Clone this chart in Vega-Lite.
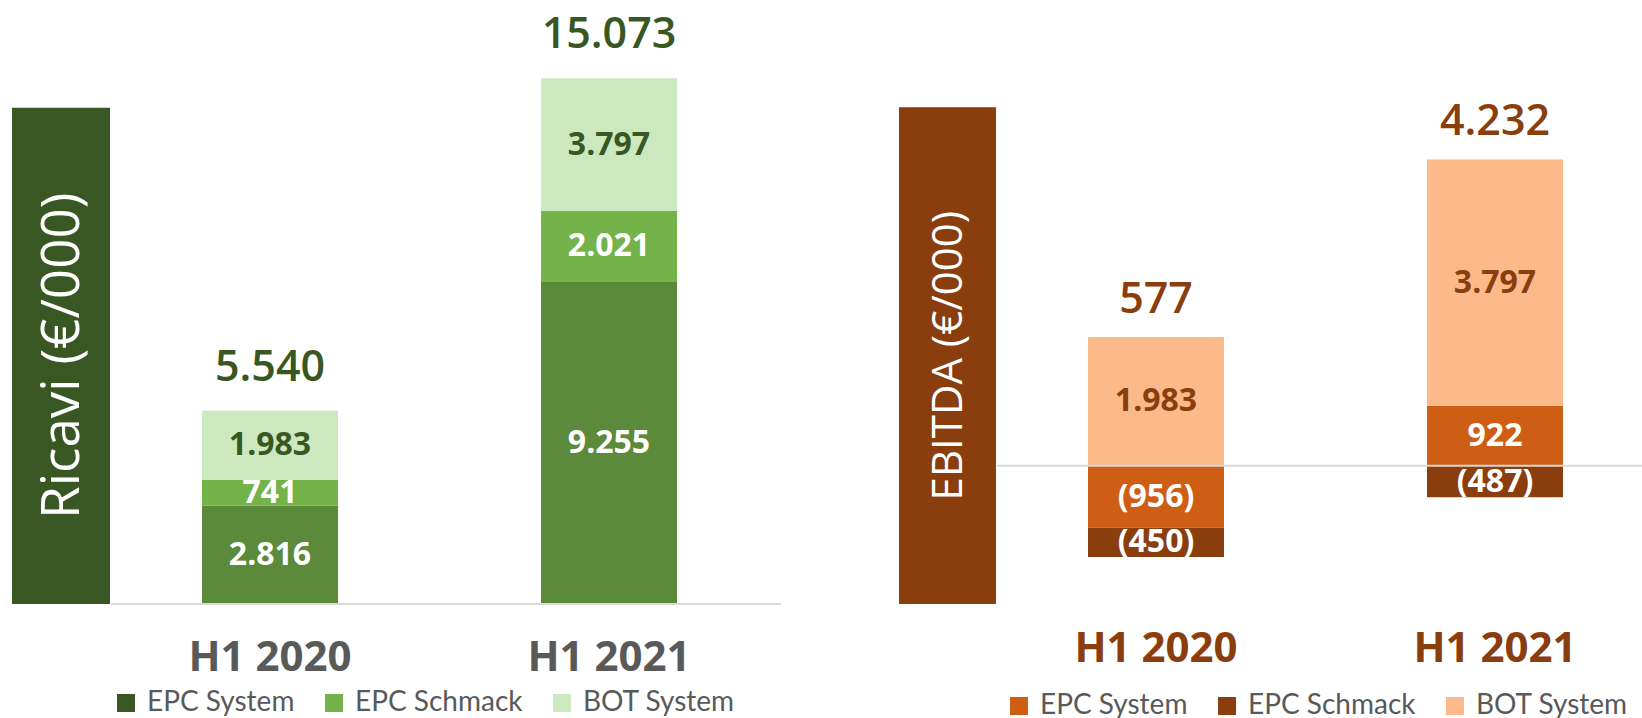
{
  "$schema": "https://vega.github.io/schema/vega-lite/v6.json",
  "padding": {"left": 12, "top": 0, "right": 0, "bottom": 0},
  "background": "white",
  "config": {
    "view": {"stroke": null},
    "locale": {"number": {"decimal": ",", "thousands": ".", "grouping": [3], "currency": ["", " €"]}}
  },
  "datasets": {
    "ricavi": [
      {"period": "H1 2020", "segment": "EPC System", "value": 2816},
      {"period": "H1 2020", "segment": "EPC Schmack", "value": 741},
      {"period": "H1 2020", "segment": "BOT System", "value": 1983},
      {"period": "H1 2021", "segment": "EPC System", "value": 9255},
      {"period": "H1 2021", "segment": "EPC Schmack", "value": 2021},
      {"period": "H1 2021", "segment": "BOT System", "value": 3797}
    ],
    "ebitda": [
      {"period": "H1 2020", "segment": "EPC System", "value": -956},
      {"period": "H1 2020", "segment": "EPC Schmack", "value": -450},
      {"period": "H1 2020", "segment": "BOT System", "value": 1983},
      {"period": "H1 2021", "segment": "EPC System", "value": 922},
      {"period": "H1 2021", "segment": "EPC Schmack", "value": -487},
      {"period": "H1 2021", "segment": "BOT System", "value": 3797}
    ],
    "titles": [
      {"panel": "ricavi", "title": "Ricavi (€/000)", "top": 14230, "bottom": 0},
      {"panel": "ebitda", "title": "EBITDA (€/000)", "top": 5522, "bottom": -2131}
    ]
  },
  "spacing": 117,
  "resolve": {"scale": {"x": "independent", "y": "independent", "color": "independent"}, "legend": {"color": "independent"}},
  "hconcat": [
    {
      "spacing": 0,
      "resolve": {"scale": {"x": "independent", "y": "independent", "color": "independent"}, "legend": {"color": "independent"}},
      "hconcat": [
        {
          "width": 98,
          "height": 604,
          "data": {"name": "titles"},
          "transform": [
            {"filter": "datum.panel === 'ricavi'"},
            {"calculate": "(datum.top + datum.bottom) / 2", "as": "mid"}
          ],
          "layer": [
            {
              "mark": {"type": "rect", "color": "#385723"},
              "encoding": {
                "x": {"field": "title", "type": "nominal", "axis": null, "scale": {"paddingInner": 0, "paddingOuter": 0}},
                "y": {"field": "top", "type": "quantitative", "axis": null, "scale": {"domain": [0, 17318], "nice": false, "zero": false}},
                "y2": {"field": "bottom"}
              }
            },
            {
              "mark": {"type": "text", "angle": 270, "fontSize": 53, "font": "Open Sans", "color": "white", "align": "center", "baseline": "middle", "dy": 2},
              "encoding": {
                "x": {"field": "title", "type": "nominal", "axis": null},
                "y": {"field": "mid", "type": "quantitative", "axis": null},
                "text": {"field": "title"}
              }
            }
          ]
        },
        {
          "width": 670,
          "height": 604,
          "data": {"name": "ricavi"},
          "transform": [
            {"calculate": "indexof(['EPC System','EPC Schmack','BOT System'], datum.segment)", "as": "ord"},
            {"stack": "value", "groupby": ["period"], "sort": [{"field": "ord", "order": "ascending"}], "as": ["v0", "v1"]},
            {"calculate": "(datum.v0 + datum.v1) / 2", "as": "mid"}
          ],
          "layer": [
            {
              "mark": {"type": "bar"},
              "encoding": {
                "x": {"field": "period", "type": "nominal", "scale": {"paddingInner": 0.5988, "paddingOuter": 0.2876, "align": 0.4667},
                  "axis": {"title": null, "domain": false, "ticks": false, "tickSize": 0, "grid": false, "labelAngle": 0, "labelFont": "Open Sans", "labelFontSize": 42, "labelFontWeight": "bold", "labelColor": "#595959", "labelPadding": 33}},
                "y": {"field": "v1", "type": "quantitative", "axis": null, "scale": {"domain": [0, 17318], "nice": false, "zero": false}},
                "y2": {"field": "v0"},
                "color": {
                  "condition": {"test": "datum.segment === 'EPC System'", "value": "#5A8A3A"},
                  "field": "segment", "type": "nominal",
                  "scale": {"domain": ["EPC System", "EPC Schmack", "BOT System"], "range": ["#385723", "#74B24A", "#CCE8BE"]},
                  "legend": {"orient": "bottom", "direction": "horizontal", "title": null, "symbolType": "square", "symbolSize": 324, "symbolStrokeWidth": 0, "labelFont": "Lato", "labelFontSize": 28, "labelColor": "#595959", "columnPadding": 25, "labelOffset": 7, "offset": 10, "padding": 1, "labelLimit": 400}
                }
              }
            },
            {
              "mark": {"type": "text", "font": "Open Sans", "fontSize": 32, "fontWeight": "bold", "align": "center", "baseline": "middle"},
              "encoding": {
                "x": {"field": "period", "type": "nominal"},
                "y": {"field": "mid", "type": "quantitative"},
                "text": {"field": "value", "type": "quantitative", "format": "(,d"},
                "color": {"condition": {"test": "datum.segment === 'BOT System'", "value": "#385723"}, "value": "white"}
              }
            },
            {
              "transform": [
                {"calculate": "max(datum.value, 0)", "as": "pos"},
                {"aggregate": [{"op": "sum", "field": "value", "as": "total"}, {"op": "sum", "field": "pos", "as": "top"}], "groupby": ["period"]}
              ],
              "mark": {"type": "text", "font": "Open Sans", "fontSize": 43, "fontWeight": 600, "color": "#385723", "align": "center", "baseline": "middle", "dy": -43},
              "encoding": {
                "x": {"field": "period", "type": "nominal"},
                "y": {"field": "top", "type": "quantitative"},
                "text": {"field": "total", "type": "quantitative", "format": "(,d"}
              }
            },
            {
              "data": {"values": [{"zero": 0}]},
              "mark": {"type": "rule", "color": "#D9D9D9", "strokeWidth": 2},
              "encoding": {"y": {"field": "zero", "type": "quantitative"}}
            }
          ]
        }
      ]
    },
    {
      "spacing": 0,
      "resolve": {"scale": {"x": "independent", "y": "independent", "color": "independent"}, "legend": {"color": "independent"}},
      "hconcat": [
        {
          "width": 97,
          "height": 604,
          "data": {"name": "titles"},
          "transform": [
            {"filter": "datum.panel === 'ebitda'"},
            {"calculate": "(datum.top + datum.bottom) / 2", "as": "mid"}
          ],
          "layer": [
            {
              "mark": {"type": "rect", "color": "#8A3D0D"},
              "encoding": {
                "x": {"field": "title", "type": "nominal", "axis": null, "scale": {"paddingInner": 0, "paddingOuter": 0}},
                "y": {"field": "top", "type": "quantitative", "axis": null, "scale": {"domain": [-2131, 7176], "nice": false, "zero": false}},
                "y2": {"field": "bottom"}
              }
            },
            {
              "mark": {"type": "text", "angle": 270, "fontSize": 42, "font": "Open Sans", "color": "white", "align": "center", "baseline": "middle", "dy": 1},
              "encoding": {
                "x": {"field": "title", "type": "nominal", "axis": null},
                "y": {"field": "mid", "type": "quantitative", "axis": null},
                "text": {"field": "title"}
              }
            }
          ]
        },
        {
          "width": 648,
          "height": 604,
          "data": {"name": "ebitda"},
          "transform": [
            {"calculate": "indexof(['EPC System','EPC Schmack','BOT System'], datum.segment)", "as": "ord"},
            {"stack": "value", "groupby": ["period"], "sort": [{"field": "ord", "order": "ascending"}], "as": ["v0", "v1"]},
            {"calculate": "(datum.v0 + datum.v1) / 2", "as": "mid"}
          ],
          "layer": [
            {
              "mark": {"type": "bar"},
              "encoding": {
                "x": {"field": "period", "type": "nominal", "scale": {"paddingInner": 0.5988, "paddingOuter": 0.2552, "align": 0.526},
                  "axis": {"title": null, "domain": false, "ticks": false, "tickSize": 0, "grid": false, "labelAngle": 0, "labelFont": "Open Sans", "labelFontSize": 42, "labelFontWeight": "bold", "labelColor": "#8A3D0D", "labelPadding": 24}},
                "y": {"field": "v1", "type": "quantitative", "axis": null, "scale": {"domain": [-2131, 7176], "nice": false, "zero": false}},
                "y2": {"field": "v0"},
                "color": {"field": "segment", "type": "nominal",
                  "scale": {"domain": ["EPC System", "EPC Schmack", "BOT System"], "range": ["#CD5E13", "#8A3D0D", "#FCB98A"]},
                  "legend": {"orient": "bottom", "direction": "horizontal", "title": null, "symbolType": "square", "symbolSize": 324, "symbolStrokeWidth": 0, "labelFont": "Lato", "labelFontSize": 28, "labelColor": "#595959", "columnPadding": 25, "labelOffset": 7, "offset": 15, "padding": 8, "labelLimit": 400}
                }
              }
            },
            {
              "mark": {"type": "text", "font": "Open Sans", "fontSize": 32, "fontWeight": "bold", "align": "center", "baseline": "middle"},
              "encoding": {
                "x": {"field": "period", "type": "nominal"},
                "y": {"field": "mid", "type": "quantitative"},
                "text": {"field": "value", "type": "quantitative", "format": "(,d"},
                "color": {"condition": {"test": "datum.segment === 'BOT System'", "value": "#8A3D0D"}, "value": "white"}
              }
            },
            {
              "transform": [
                {"calculate": "max(datum.value, 0)", "as": "pos"},
                {"aggregate": [{"op": "sum", "field": "value", "as": "total"}, {"op": "sum", "field": "pos", "as": "top"}], "groupby": ["period"]}
              ],
              "mark": {"type": "text", "font": "Open Sans", "fontSize": 43, "fontWeight": 600, "color": "#8A3D0D", "align": "center", "baseline": "middle", "dy": -37},
              "encoding": {
                "x": {"field": "period", "type": "nominal"},
                "y": {"field": "top", "type": "quantitative"},
                "text": {"field": "total", "type": "quantitative", "format": "(,d"}
              }
            },
            {
              "data": {"values": [{"zero": 0}]},
              "mark": {"type": "rule", "color": "#D9D9D9", "strokeWidth": 2},
              "encoding": {"y": {"field": "zero", "type": "quantitative"}}
            }
          ]
        }
      ]
    }
  ]
}
